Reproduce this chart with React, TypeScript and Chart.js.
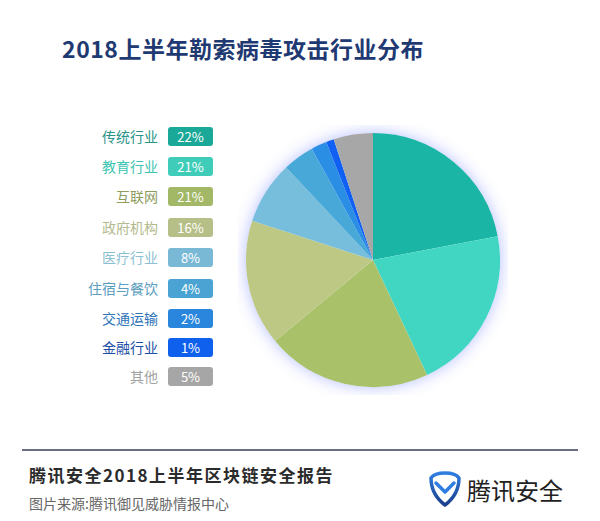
import React, { useEffect, useRef } from "react";
import { Chart, registerables } from "chart.js";

Chart.register(...registerables);

const categories = ["传统行业", "教育行业", "互联网", "政府机构", "医疗行业", "住宿与餐饮", "交通运输", "金融行业", "其他"];
const shares = [22, 21, 21, 16, 8, 4, 2, 1, 5];
const sliceColors = ["#1bb5a6", "#40d6c2", "#a9c26a", "#bdc885", "#76bedc", "#48a9d9", "#2a8ee4", "#1060f4", "#a7a7a7"];
const labelColors = ["#2a9488", "#3cc5b1", "#8e9c60", "#b3ba8e", "#8cbfd2", "#5a9dbd", "#2d74b8", "#1c4ea6", "#a3a3a3"];
const badgeColors = ["#1aa898", "#3fcdb9", "#a2b866", "#b7bf88", "#7ab9d6", "#4aa3d2", "#2a86dc", "#1060ee", "#a6a6a6"];
const rowCenters = [136, 166, 196, 227, 257, 288, 318, 347, 376];

const shadowPlugin = {
  id: "pieShadow",
  beforeDatasetsDraw(chart: any) {
    const meta = chart.getDatasetMeta(0);
    const arc = meta.data[0];
    if (!arc) return;
    const { x, y, outerRadius } = arc.getProps(["x", "y", "outerRadius"], true);
    const ctx = chart.ctx;
    ctx.save();
    ctx.shadowColor = "rgba(90,110,255,0.45)";
    ctx.shadowBlur = 16;
    ctx.beginPath();
    ctx.arc(x, y, outerRadius, 0, Math.PI * 2);
    ctx.fillStyle = "#ffffff";
    ctx.fill();
    ctx.restore();
  },
};

function PieChart() {
  const ref = useRef<HTMLCanvasElement>(null);
  useEffect(() => {
    if (!ref.current) return;
    const chart = new Chart(ref.current, {
      type: "pie",
      data: {
        labels: categories,
        datasets: [
          {
            data: shares,
            backgroundColor: sliceColors,
            borderWidth: 0,
          },
        ],
      },
      options: {
        animation: false,
        responsive: false,
        maintainAspectRatio: false,
        layout: { padding: 8 },
        plugins: {
          legend: { display: false },
          tooltip: { enabled: false },
        },
      },
      plugins: [shadowPlugin],
    });
    return () => chart.destroy();
  }, []);
  return <canvas ref={ref} width={270} height={270} style={{ width: 270, height: 270 }} />;
}

export default function App() {
  useEffect(() => {
    document.body.style.margin = "0";
  }, []);
  const font = "'Noto Sans CJK SC', 'Noto Sans', sans-serif";
  return (
    <div style={{ position: "relative", width: 600, height: 521, background: "#ffffff", overflow: "hidden", fontFamily: font }}>
      <div
        style={{
          position: "absolute",
          left: 0,
          width: 486,
          top: 33,
          textAlign: "center",
          fontSize: 23,
          fontWeight: 700,
          color: "#1f3a72",
          lineHeight: "30px",
          letterSpacing: 0.5,
        }}
      >
        2018上半年勒索病毒攻击行业分布
      </div>

      {categories.map((c, i) => (
        <React.Fragment key={c}>
          <div
            style={{
              position: "absolute",
              right: 600 - 158,
              top: rowCenters[i] - 11,
              height: 22,
              lineHeight: "22px",
              fontSize: 14,
              color: labelColors[i],
              whiteSpace: "nowrap",
            }}
          >
            {c}
          </div>
          <div
            style={{
              position: "absolute",
              left: 168,
              top: rowCenters[i] - 9,
              width: 45,
              height: 19,
              lineHeight: "19px",
              borderRadius: 3,
              background: badgeColors[i],
              color: "#ffffff",
              fontSize: 13,
              textAlign: "center",
            }}
          >
            {shares[i]}%
          </div>
        </React.Fragment>
      ))}

      <div style={{ position: "absolute", left: 238, top: 125 }}>
        <PieChart />
      </div>

      <div style={{ position: "absolute", left: 22, top: 449, width: 556, height: 2, background: "#6a6c80" }} />

      <div
        style={{
          position: "absolute",
          left: 29,
          top: 463,
          fontSize: 17,
          fontWeight: 700,
          color: "#2b2b2b",
          lineHeight: "24px",
          letterSpacing: 1.5,
          whiteSpace: "nowrap",
        }}
      >
        腾讯安全2018上半年区块链安全报告
      </div>
      <div
        style={{
          position: "absolute",
          left: 29,
          top: 492,
          fontSize: 14,
          color: "#666666",
          lineHeight: "22px",
          whiteSpace: "nowrap",
        }}
      >
        图片来源:腾讯御见威胁情报中心
      </div>

      <svg style={{ position: "absolute", left: 429, top: 471 }} width={32} height={36} viewBox="0 0 32 36">
        <defs>
          <linearGradient id="shg" x1="0" y1="0" x2="0" y2="1">
            <stop offset="0" stopColor="#2f7de0" />
            <stop offset="1" stopColor="#1a3f8a" />
          </linearGradient>
        </defs>
        <path
          d="M16 2 C22 2 28 4 30 7 C30 19 24 28 16 34 C8 28 2 19 2 7 C4 4 10 2 16 2 Z"
          fill="none"
          stroke="url(#shg)"
          strokeWidth={3.5}
          strokeLinejoin="round"
        />
        <path d="M7 12 L16 21 L25 12" fill="none" stroke="#2f7de0" strokeWidth={3.5} strokeLinejoin="round" strokeLinecap="round" />
      </svg>
      <div
        style={{
          position: "absolute",
          left: 467,
          top: 475,
          fontSize: 24,
          color: "#222222",
          lineHeight: "30px",
          whiteSpace: "nowrap",
        }}
      >
        腾讯安全
      </div>
    </div>
  );
}
